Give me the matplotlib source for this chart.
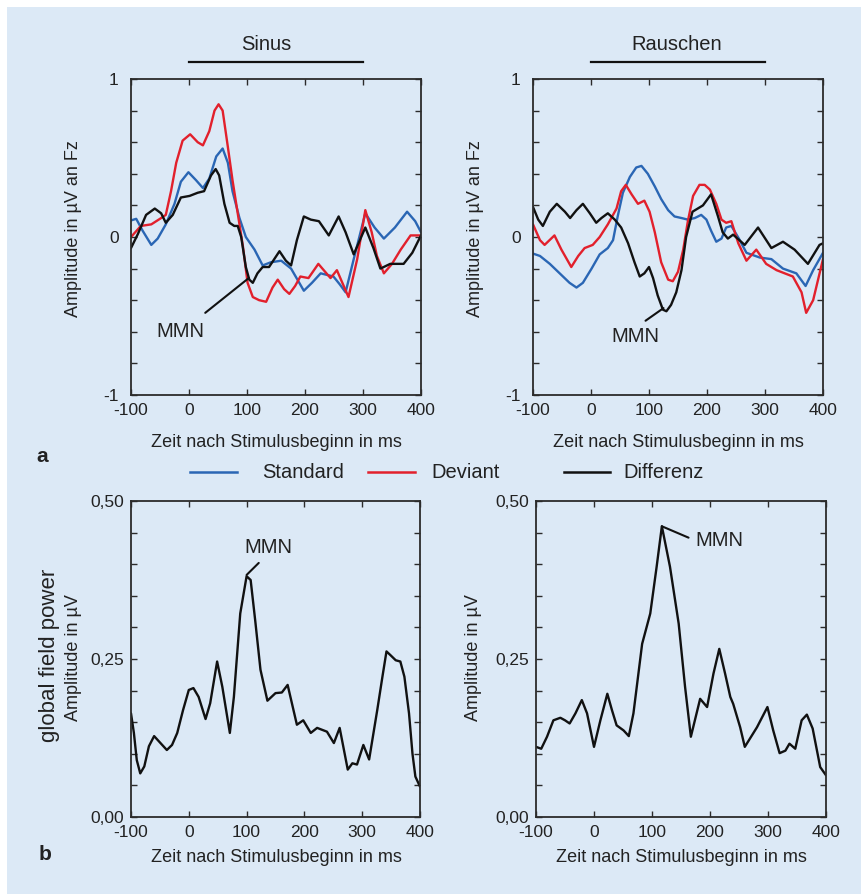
import matplotlib
matplotlib.use("Agg")
import matplotlib.pyplot as plt
from matplotlib.lines import Line2D
from matplotlib.patches import Rectangle
import matplotlib.transforms as mtransforms

plt.rcParams['font.family'] = ['Liberation Sans', 'DejaVu Sans']

# ---------------- data ----------------
# Panel a, Sinus (amplitude in µV at Fz)
sin_std_t = [-100, -91, -80, -65, -54, -40, -25, -14, -1, 12, 24, 35, 47, 58, 67, 75, 87, 98, 113, 127, 141, 159, 176,
             187, 198, 212, 227, 249, 260, 270, 284, 304, 320, 336, 355, 376, 390, 400]
sin_std_v = [0.105, 0.115, 0.04, -0.05, -0.01, 0.08, 0.21, 0.35, 0.41, 0.36, 0.31, 0.37, 0.51, 0.56, 0.47, 0.29, 0.12, 0.0, -0.08, -0.18, -0.16, -0.15, -0.20,
             -0.27, -0.34, -0.29, -0.23, -0.25, -0.30, -0.35, -0.14, 0.15, 0.06, -0.01, 0.06, 0.16, 0.10, 0.03]

sin_dev_t = [-100, -83, -65, -48, -40, -31, -22, -11, 2, 15, 24, 35, 44, 51, 58, 67, 75, 84, 93, 101, 110, 121, 133, 144, 153, 164, 173,
             183, 192, 206, 223, 244, 255, 275, 290, 304, 315, 324, 336, 350, 365, 382, 400]
sin_dev_v = [0.0, 0.07, 0.08, 0.12, 0.14, 0.29, 0.47, 0.61, 0.65, 0.60, 0.58, 0.67, 0.80, 0.84, 0.80, 0.57, 0.36, 0.15, -0.06, -0.29, -0.38, -0.40, -0.41, -0.32, -0.27, -0.33, -0.36,
             -0.31, -0.25, -0.26, -0.17, -0.26, -0.21, -0.38, -0.14, 0.17, 0.03, -0.12, -0.23, -0.17, -0.08, 0.01, 0.01]

sin_dif_t = [-100, -88, -74, -59, -48, -40, -28, -14, 1, 15, 26, 38, 46, 52, 61, 70, 78, 84, 90, 98, 104, 110, 118, 127, 138, 147, 156, 167, 176,
             186, 198, 210, 224, 241, 258, 270, 284, 304, 318, 330, 347, 370, 385, 400]
sin_dif_v = [-0.07, 0.02, 0.14, 0.18, 0.15, 0.09, 0.14, 0.25, 0.26, 0.28, 0.29, 0.39, 0.43, 0.39, 0.21, 0.09, 0.07, 0.07, 0.0, -0.19, -0.27, -0.29, -0.23, -0.19, -0.19, -0.14, -0.09, -0.15, -0.18,
             -0.02, 0.13, 0.11, 0.10, 0.01, 0.13, 0.03, -0.11, 0.06, -0.07, -0.20, -0.17, -0.17, -0.10, 0.01]

# Panel a, Rauschen
rau_std_t = [-100, -88, -71, -54, -37, -25, -14, 1, 15, 29, 38, 46, 55, 67, 78, 87, 98, 110, 121, 133, 144, 156, 167, 179, 190, 199, 207, 216, 225, 233,
             242, 255, 268, 291, 311, 331, 354, 370, 383, 400]
rau_std_v = [-0.105, -0.12, -0.17, -0.23, -0.29, -0.32, -0.29, -0.20, -0.11, -0.07, -0.02, 0.13, 0.28, 0.38, 0.44, 0.45, 0.40, 0.32, 0.24, 0.17, 0.13, 0.12, 0.11, 0.12, 0.14, 0.11, 0.04, -0.03, -0.01, 0.06,
             0.07, -0.01, -0.10, -0.13, -0.14, -0.20, -0.23, -0.31, -0.21, -0.10]

rau_dev_t = [-100, -88, -80, -63, -51, -34, -22, -11, 3, 15, 29, 44, 52, 60, 70, 81, 92, 101, 110, 121, 133, 141, 150, 159, 167, 176, 187, 196, 205, 216, 225, 233, 242,
             254, 268, 285, 302, 320, 348, 363, 371, 383, 400]
rau_dev_v = [0.08, -0.02, -0.05, 0.01, -0.08, -0.19, -0.12, -0.07, -0.05, 0.0, 0.08, 0.18, 0.29, 0.33, 0.27, 0.21, 0.23, 0.16, 0.03, -0.16, -0.27, -0.28, -0.22, -0.08, 0.10, 0.26, 0.33, 0.33, 0.30, 0.21, 0.11, 0.09, 0.10,
             -0.04, -0.15, -0.08, -0.17, -0.21, -0.25, -0.35, -0.48, -0.40, -0.14]

rau_dif_t = [-100, -91, -83, -71, -59, -45, -36, -25, -14, -2, 9, 18, 29, 41, 52, 64, 75, 84, 92, 100, 107, 115, 124, 130, 138, 147, 156, 164, 175, 184, 193, 207, 219, 227, 236, 245,
             265, 288, 311, 331, 351, 374, 394, 400]
rau_dif_v = [0.19, 0.11, 0.07, 0.16, 0.21, 0.16, 0.12, 0.17, 0.21, 0.15, 0.09, 0.12, 0.15, 0.11, 0.06, -0.04, -0.16, -0.25, -0.23, -0.19, -0.26, -0.37, -0.46, -0.47, -0.43, -0.35, -0.21, 0.0, 0.16, 0.18, 0.20, 0.27, 0.13, 0.03, -0.01, 0.015,
             -0.05, 0.06, -0.07, -0.03, -0.08, -0.17, -0.05, -0.04]

# Panel b, global field power
gfp_sin_t = [-100, -95, -90, -84, -77, -69, -60, -49, -38, -29, -20, -10, 0, 8, 17, 29, 37, 49, 58, 71, 78, 89, 100, 107, 115, 124, 136, 150, 161, 171,
             187, 198, 211, 222, 239, 251, 261, 275, 283, 291, 302, 312, 326, 335, 342, 349, 358, 366, 373, 381, 387, 392, 400]
gfp_sin_v = [0.164, 0.133, 0.09, 0.069, 0.080, 0.112, 0.128, 0.117, 0.106, 0.114, 0.133, 0.169, 0.201, 0.204, 0.19, 0.155, 0.18, 0.246, 0.206, 0.133, 0.19, 0.322, 0.381, 0.375, 0.31, 0.233, 0.184, 0.196, 0.197, 0.209,
             0.146, 0.153, 0.133, 0.141, 0.135, 0.117, 0.141, 0.075, 0.085, 0.083, 0.114, 0.091, 0.169, 0.222, 0.262, 0.256, 0.248, 0.246, 0.222, 0.164, 0.10, 0.064, 0.048]

gfp_rau_t = [-100, -91, -81, -70, -58, -50, -42, -32, -21, -12, 0, 11, 23, 31, 39, 51, 60, 68, 83, 97, 108, 117, 131, 146, 157, 167, 183, 195, 206, 216, 226, 235, 240,
             252, 260, 281, 299, 309, 320, 330, 337, 347, 358, 367, 377, 390, 400]
gfp_rau_v = [0.111, 0.108, 0.127, 0.153, 0.157, 0.153, 0.148, 0.164, 0.185, 0.164, 0.111, 0.153, 0.195, 0.169, 0.145, 0.137, 0.128, 0.164, 0.274, 0.322, 0.396, 0.460, 0.396, 0.306, 0.206, 0.127, 0.187, 0.174, 0.227, 0.266, 0.227, 0.190, 0.179,
             0.142, 0.111, 0.142, 0.174, 0.137, 0.101, 0.105, 0.116, 0.108, 0.153, 0.162, 0.140, 0.079, 0.066]

x_ticks = [-100, 0, 100, 200, 300, 400]
top_yticks = [-1, 0, 1]
top_yticklabels = ["-1", "0", "1"]
bot_yticks = [0.0, 0.25, 0.5]
bot_yticklabels = ["0,00", "0,25", "0,50"]
legend_labels = ["Standard", "Deviant", "Differenz"]

# ---------------- style ----------------
W, H = 861, 894
BG = "#dce9f6"
C_STD = "#2a66b4"
C_DEV = "#e2202c"
C_DIF = "#111111"
SPINE = "#2b2b2b"

def fx(px):
    return px / W

def fy(py):
    return 1 - py / H

fig = plt.figure(figsize=(W / 100, H / 100), dpi=100, facecolor="white")
fig.add_artist(Rectangle((fx(7), 0), 1 - fx(7), fy(7), transform=fig.transFigure,
                         facecolor=BG, edgecolor="none", zorder=-10))

def make_ax(x0, x1, y0, y1):
    ax = fig.add_axes([fx(x0), fy(y1), fx(x1) - fx(x0), fy(y0) - fy(y1)])
    ax.set_facecolor(BG)
    for s in ax.spines.values():
        s.set_color(SPINE)
        s.set_linewidth(1.3)
    ax.tick_params(direction="in", top=True, right=True, length=4, width=1.0,
                   colors=SPINE, labelcolor="#222222", labelsize=12.5)
    ax.tick_params(which="minor", direction="in", top=True, right=True, length=4, width=1.0, colors=SPINE)
    ax.set_xlim(-100, 400)
    ax.set_xticks(x_ticks)
    ax.set_xticklabels([str(t) for t in x_ticks])
    ax.tick_params(axis="x", pad=6)
    return ax

LW = 1.7
KW = dict(lw=LW, solid_joinstyle="round", solid_capstyle="round")

# top panels
ax1 = make_ax(131, 421, 79, 395)
ax2 = make_ax(533, 823, 79, 395)
for ax in (ax1, ax2):
    ax.set_ylim(-1, 1)
    ax.set_yticks(top_yticks)
    ax.set_yticklabels(top_yticklabels)
    ax.set_yticks([-0.8, -0.6, -0.4, -0.2, 0.2, 0.4, 0.6, 0.8], minor=True)
    ax.tick_params(axis="y", pad=9)

ax1.plot(sin_std_t, sin_std_v, color=C_STD, **KW)
ax1.plot(sin_dev_t, sin_dev_v, color=C_DEV, **KW)
ax1.plot(sin_dif_t, sin_dif_v, color=C_DIF, **KW)

ax2.plot(rau_std_t, rau_std_v, color=C_STD, **KW)
ax2.plot(rau_dev_t, rau_dev_v, color=C_DEV, **KW)
ax2.plot(rau_dif_t, rau_dif_v, color=C_DIF, **KW)

# MMN annotations top
ax1.annotate("", xy=(103, -0.26), xytext=(28, -0.48),
             arrowprops=dict(arrowstyle="-", color=C_DIF, lw=1.5, shrinkA=0, shrinkB=0))
ax1.text(-15, -0.60, "MMN", fontsize=14.5, ha="center", va="center", color="#222222")
ax2.annotate("", xy=(125, -0.45), xytext=(94, -0.53),
             arrowprops=dict(arrowstyle="-", color=C_DIF, lw=1.5, shrinkA=0, shrinkB=0))
ax2.text(76, -0.63, "MMN", fontsize=14.5, ha="center", va="center", color="#222222")

# stimulus bars and titles
for ax, title, tx in ((ax1, "Sinus", 133), (ax2, "Rauschen", 147)):
    trans = mtransforms.blended_transform_factory(ax.transData, ax.transAxes)
    ax.plot([0, 300], [1.054, 1.054], transform=trans, color=C_DIF, lw=1.6, clip_on=False)
    ax.text(tx, 1.108, title, transform=trans, ha="center", va="center", fontsize=14.5, color="#222222")

# bottom panels
ax3 = make_ax(131, 420, 501, 817)
ax4 = make_ax(536, 826, 501, 817)
for ax in (ax3, ax4):
    ax.set_ylim(0, 0.5)
    ax.set_yticks(bot_yticks)
    ax.set_yticklabels(bot_yticklabels)
    ax.set_yticks([0.05, 0.1, 0.15, 0.2, 0.3, 0.35, 0.4, 0.45], minor=True)
    ax.tick_params(axis="y", pad=5)

ax3.plot(gfp_sin_t, gfp_sin_v, color=C_DIF, **KW)
ax4.plot(gfp_rau_t, gfp_rau_v, color=C_DIF, **KW)

ax3.annotate("", xy=(100, 0.383), xytext=(121, 0.402),
             arrowprops=dict(arrowstyle="-", color=C_DIF, lw=1.5, shrinkA=0, shrinkB=0))
ax3.text(138, 0.427, "MMN", fontsize=14.5, ha="center", va="center", color="#222222")
ax4.annotate("", xy=(117, 0.460), xytext=(163, 0.442),
             arrowprops=dict(arrowstyle="-", color=C_DIF, lw=1.5, shrinkA=0, shrinkB=0))
ax4.text(217, 0.438, "MMN", fontsize=14.5, ha="center", va="center", color="#222222")

# axis labels
TXT = "#222222"
for cx, cy in ((276, 443), (678, 443), (276, 857), (681, 857)):
    fig.text(fx(cx), fy(cy), "Zeit nach Stimulusbeginn in ms", ha="center", va="center",
             fontsize=13, color=TXT)
for cx, cy in ((73, 229), (476, 229)):
    fig.text(fx(cx), fy(cy), "Amplitude in µV an Fz", rotation=90, ha="center", va="center",
             fontsize=13, color=TXT)
fig.text(fx(50), fy(655), "global field power", rotation=90, ha="center", va="center",
         fontsize=16, color=TXT)
for cx in (74, 473):
    fig.text(fx(cx), fy(658), "Amplitude in µV", rotation=90, ha="center", va="center",
             fontsize=13, color=TXT)

# panel letters
fig.text(fx(42), fy(457), "a", fontsize=15, fontweight="bold", ha="center", va="center", color=TXT)
fig.text(fx(45), fy(855), "b", fontsize=15, fontweight="bold", ha="center", va="center", color=TXT)

# legend (manual)
leg_y = 472
for (x0, x1, tx), col, lab in zip(((190, 237, 262), (368, 415, 431), (564, 610, 623)),
                                  (C_STD, C_DEV, C_DIF), legend_labels):
    fig.add_artist(Line2D([fx(x0), fx(x1)], [fy(leg_y), fy(leg_y)], transform=fig.transFigure,
                          color=col, lw=1.8))
    fig.text(fx(tx), fy(leg_y), lab, ha="left", va="center", fontsize=14.5, color=TXT)

fig.savefig("out.png", dpi=100, facecolor=fig.get_facecolor())
